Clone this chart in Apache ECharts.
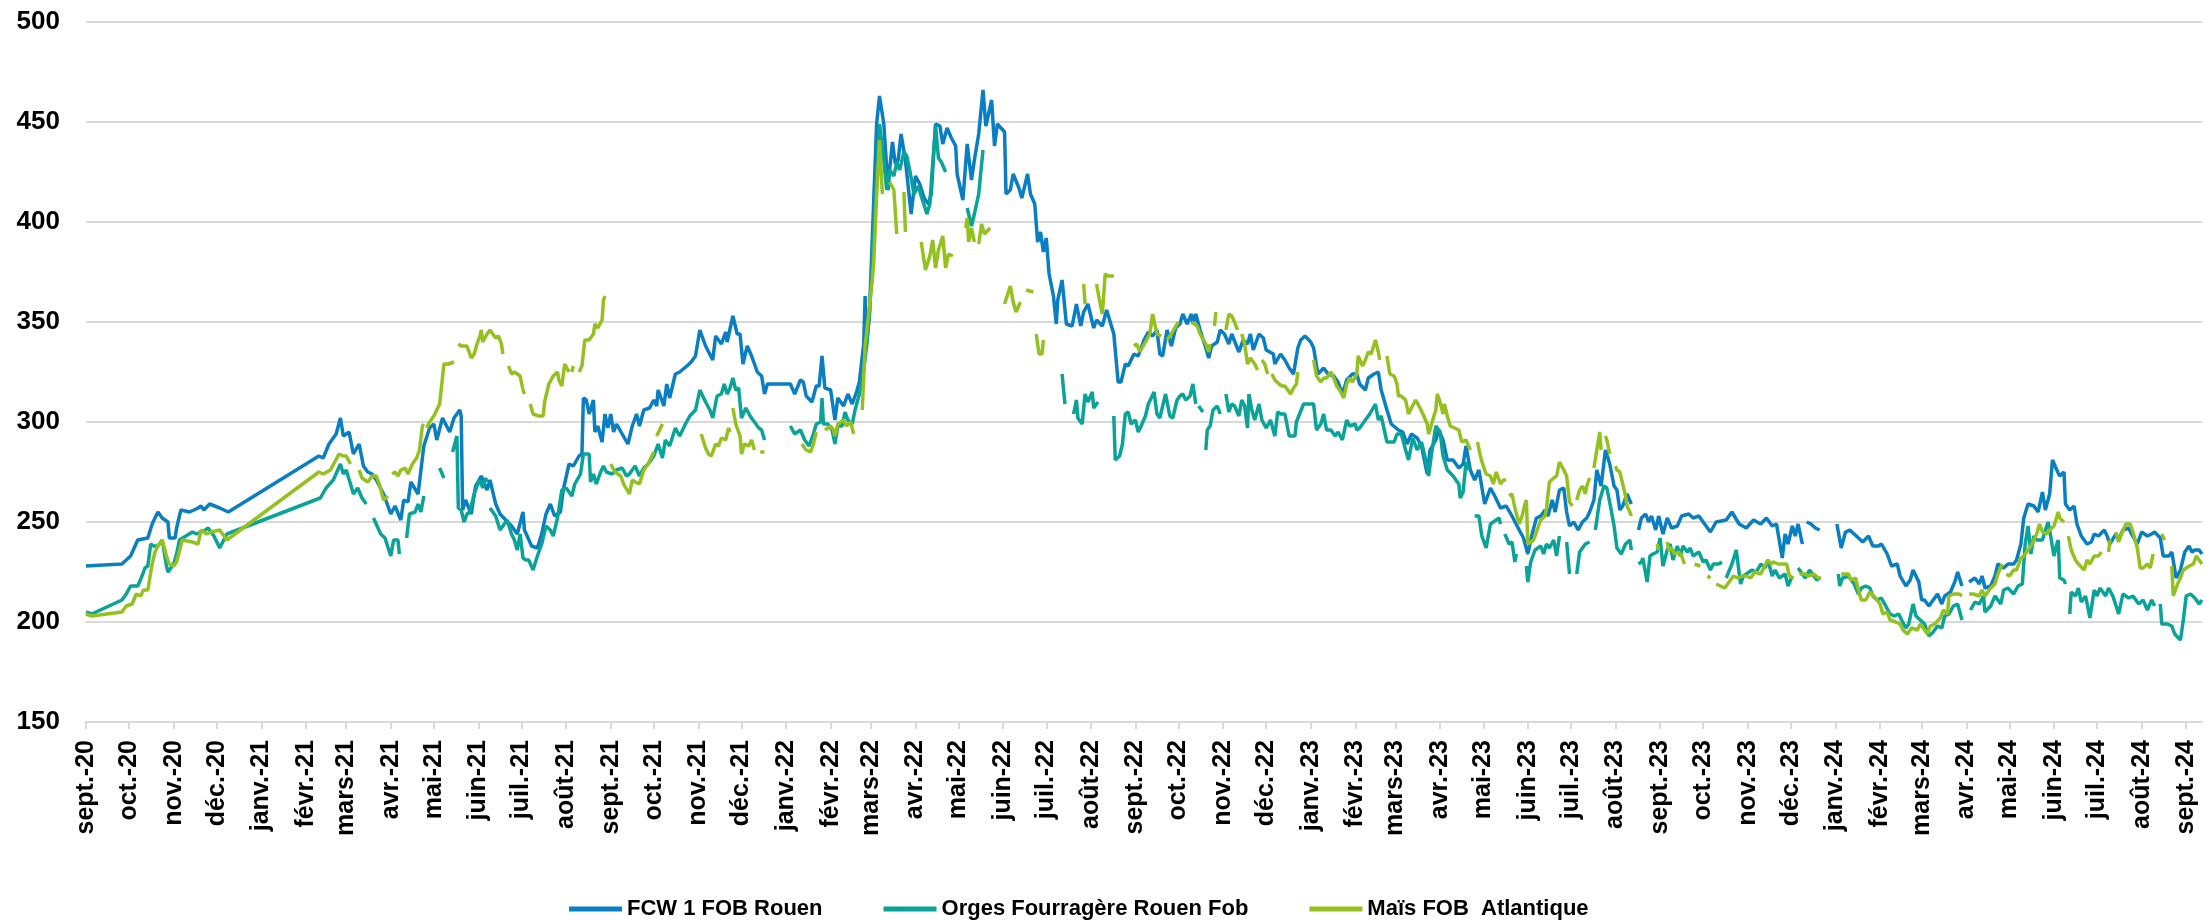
<!DOCTYPE html>
<html>
<head>
<meta charset="utf-8">
<script src="https://cdn.jsdelivr.net/npm/echarts@6/dist/echarts.min.js"></script>
<style>
  html, body { margin: 0; padding: 0; background: #ffffff; }
  #chart { width: 2206px; height: 923px; }
</style>
</head>
<body>
<div id="chart"></div>
<script>
// jours depuis le 1er sept. 2020 / prix en €/t ; null = pas de cotation
var startDate = '2020-09-01';
var dayCount = 1473;
var monthNames = ['janv.', 'févr.', 'mars', 'avr.', 'mai', 'juin', 'juil.', 'août', 'sept.', 'oct.', 'nov.', 'déc.'];
var seriesNames = ['FCW 1 FOB Rouen', 'Orges Fourragère Rouen Fob', 'Maïs FOB  Atlantique'];

var fcwDays = [
  0,25,31,36,43,46,50,53,57,58,62,63,66,72,78,80,82,86,93,99,
  162,165,169,174,177,179,183,186,190,193,196,199,202,207,212,215,219,221,224,226,
  231,235,239,242,244,248,253,256,260,261,262,264,268,271,275,279,281,285,288,292,
  296,300,304,305,310,314,317,320,323,326,330,332,336,339,343,345,346,348,350,353,
  354,356,359,361,363,365,367,369,373,377,380,383,385,388,392,395,397,398,402,404,
  406,410,413,418,421,424,427,431,436,438,442,445,446,450,453,455,457,460,463,467,
  470,472,474,490,493,497,499,501,505,508,510,512,514,518,521,523,527,530,533,536,
  538,541,542,543,545,548,550,552,555,558,559,561,563,565,567,570,574,577,580,583,
  586,588,591,594,596,599,602,605,606,610,613,616,618,621,624,626,630,632,634,639,
  640,643,645,649,651,653,655,657,660,662,664,666,668,670,673,675,676,679,682,686,
  689,692,694,697,701,703,707,710,715,718,720,723,725,729,732,736,739,742,745,747,
  749,752,755,758,761,763,766,769,770,772,775,779,781,783,787,789,792,795,797,802,
  805,808,810,812,816,819,821,826,827,831,834,837,840,843,845,848,852,854,857,861,
  864,868,871,874,877,881,884,886,890,892,896,899,901,905,908,913,916,919,922,926,
  929,933,935,939,941,944,947,951,955,958,960,963,966,969,973,977,980,984,988,992,
  997,1000,1003,1006,1009,1012,1015,1017,1020,1022,1025,1028,1030,1032,1035,1038,1041,1044,1046,1049,
  1051,1054,1057,1060,1063,1065,1067,1069,1072,1075,1077,1080,1082,1085,1087,1089,1092,1094,1097,1100,
  1103,1107,1110,1115,1118,1122,1125,1130,1134,1141,1145,1150,1155,1160,1165,1169,1173,1176,1180,1182,
  1184,1187,1189,1191,1194,1195,1197,1200,1203,1206,1212,1218,1221,1224,1227,1230,1233,1236,1240,1243,
  1247,1249,1253,1256,1260,1262,1266,1269,1271,1275,1277,1279,1282,1284,1288,1291,1293,1297,1300,1302,
  1305,1307,1310,1314,1317,1319,1321,1325,1328,1330,1334,1337,1341,1343,1346,1348,1351,1355,1358,1361,
  1363,1366,1368,1371,1373,1376,1377,1380,1383,1385,1388,1392,1395,1397,1400,1404,1406,1408,1412,1414,
  1417,1421,1423,1427,1430,1434,1437,1439,1443,1445,1449,1451,1454,1457,1460,1463,1465,1467,1470,1472
];
var fcwValues = [
  228,229,233,241,242,249,255,252,250,242,242,247,256,255,257,258,256,259,257,255,
  283,282,289,294,302,293,295,284,289,278,275,274,271,264,254,258,251,261,260,270,
  264,288,297,299,291,302,295,302,306,303,256,261,254,268,273,266,271,259,254,251,
  248,244,255,246,238,237,244,254,259,253,255,266,279,278,283,284,312,311,304,311,
  295,298,290,304,297,304,295,299,294,289,298,304,298,306,307,311,308,316,308,319,
  312,324,325,328,330,333,346,338,331,343,339,345,340,353,344,344,329,338,333,325,
  323,314,319,319,314,321,320,313,310,318,318,333,317,316,301,312,308,314,309,315,
  320,339,363,339,354,411,449,463,449,416,426,440,429,431,444,431,404,423,419,412,
  409,414,449,448,439,447,442,438,424,411,439,421,431,444,466,448,461,438,449,445,
  414,416,424,417,412,418,424,414,409,390,395,385,392,374,363,349,361,371,349,348,
  359,348,355,359,347,351,348,356,344,320,320,329,328,334,333,341,345,343,346,334,
  333,346,338,347,349,354,349,354,349,354,346,337,332,338,340,346,344,339,344,335,
  341,339,344,336,344,342,336,334,329,334,331,327,324,337,341,343,340,337,324,327,
  324,323,320,314,321,324,324,319,316,322,324,325,316,306,299,296,295,289,294,292,
  288,274,286,291,296,291,281,281,277,279,288,276,271,276,259,267,263,257,258,253,
  246,242,234,244,252,253,256,253,261,255,266,267,255,248,250,246,250,252,255,261,
  276,268,286,279,268,266,256,258,264,259,null,246,252,254,250,253,246,253,244,252,
  247,248,253,254,252,253,250,245,250,251,255,249,247,251,249,252,248,249,232,244,
  239,248,243,249,239,null,250,249,247,246,null,249,237,245,246,244,242,240,243,238,
  238,239,234,228,229,223,218,221,226,220,211,211,208,210,214,209,213,215,220,225,
  218,null,220,222,219,223,217,218,223,229,227,229,229,231,239,252,259,258,255,265,
  256,264,281,276,273,275,259,256,258,249,243,239,240,244,243,246,243,239,244,241,
  246,247,244,239,245,243,244,245,242,233,233,235,222,226,235,238,235,236,236,234
];

var orgeDays = [
  0,4,25,28,31,36,39,41,43,45,47,50,53,56,57,61,63,65,74,77,
  83,85,89,93,98,163,167,172,177,179,181,184,186,189,192,195,197,200,205,208,
  212,214,217,218,221,223,225,229,231,233,235,240,246,249,252,255,258,259,261,263,
  265,267,270,272,274,276,278,279,280,281,285,288,290,293,296,298,300,302,304,306,
  308,311,314,317,320,323,325,328,331,334,338,340,344,346,350,351,353,355,358,360,
  362,366,369,373,376,378,382,385,388,391,395,398,401,403,406,410,413,417,420,424,
  427,431,434,436,439,442,444,446,448,450,452,454,456,459,462,466,468,470,472,480,
  490,493,497,500,503,506,508,511,512,513,516,519,521,523,526,528,530,533,535,538,
  541,543,545,547,549,552,555,557,559,562,564,566,569,571,573,576,579,581,585,587,
  589,591,593,595,598,605,613,615,616,618,621,624,650,679,681,684,687,689,690,693,
  695,697,700,701,704,709,715,716,719,721,723,725,727,730,732,734,737,739,743,745,
  747,751,754,756,759,761,763,765,768,770,772,773,774,777,778,779,780,782,784,787,
  789,791,793,795,797,799,802,804,806,808,809,811,813,816,818,821,824,827,829,831,
  834,837,839,841,842,847,854,856,859,861,863,866,869,871,874,877,879,883,884,886,
  890,893,897,899,901,905,910,912,915,918,920,923,926,929,932,934,936,939,942,944,
  947,951,955,956,958,960,962,963,966,969,971,974,977,979,983,984,985,987,990,992,
  994,995,998,1002,1003,1005,1008,1009,1012,1014,1016,1018,1021,1023,1025,1027,1030,1032,1034,1037,
  1039,1043,1046,1048,1050,1053,1056,1058,1061,1063,1065,1068,1071,1074,1075,1077,1080,1082,1083,1086,
  1088,1090,1093,1095,1097,1100,1102,1104,1107,1109,1111,1114,1116,1118,1122,1125,1127,1130,1132,1136,
  1138,1140,1141,1145,1148,1151,1153,1155,1159,1162,1165,1168,1170,1173,1175,1178,1182,1184,1187,1189,
  1191,1194,1196,1199,1202,1204,1206,1212,1219,1220,1222,1226,1230,1233,1235,1238,1241,1243,1246,1249,
  1252,1255,1258,1261,1263,1266,1268,1271,1273,1276,1279,1282,1285,1288,1291,1293,1296,1299,1302,1305,
  1307,1311,1314,1317,1320,1321,1325,1328,1332,1334,1337,1341,1344,1347,1349,1351,1353,1355,1357,1361,
  1363,1365,1366,1369,1371,1372,1373,1376,1377,1378,1380,1381,1384,1386,1388,1391,1394,1397,1399,1401,
  1405,1407,1410,1414,1417,1421,1424,1428,1431,1434,1437,1439,1441,1443,1444,1448,1451,1453,1457,1459,
  1461,1464,1467,1470,1472
];
var orgeValues = [
  205,204,211,214,218,218,223,227,228,239,238,238,241,228,225,229,234,241,245,244,
  246,247,243,237,244,262,267,271,279,274,276,269,264,267,262,259,null,252,244,242,
  233,241,241,234,null,242,254,255,259,255,263,null,277,272,null,285,293,257,256,250,
  254,255,264,268,271,267,272,270,null,257,253,246,248,251,244,241,236,244,232,231,
  231,226,233,239,248,246,243,252,266,267,263,269,274,284,284,270,274,269,275,278,
  275,274,276,277,273,274,278,273,277,279,283,289,282,291,288,297,293,299,303,306,
  316,310,306,302,313,314,319,314,317,322,316,317,302,307,303,299,297,296,291,null,
  298,294,296,291,288,294,299,300,312,299,299,296,289,298,298,305,301,299,306,314,
  326,338,354,380,411,449,431,416,426,423,430,426,435,433,426,414,418,413,404,409,
  429,448,432,430,425,null,407,401,398,404,414,436,null,324,309,null,304,311,302,299,
  314,310,315,307,310,null,303,281,283,289,304,305,299,301,295,298,303,309,315,304,
  302,314,303,302,311,313,314,311,313,319,309,null,308,305,null,286,296,298,306,308,
  304,null,314,305,309,308,303,311,308,297,314,306,301,309,301,297,301,293,305,304,
  304,293,293,293,300,309,309,296,299,304,296,296,293,295,291,301,298,299,296,297,
  301,304,309,301,303,290,290,294,294,286,281,292,286,290,281,273,284,298,295,283,
  276,273,269,262,265,280,276,null,253,253,243,237,249,250,252,249,null,244,239,240,
  230,234,null,228,220,230,236,235,238,234,239,237,241,233,243,null,240,224,null,224,
  235,239,240,null,246,261,268,267,256,248,237,234,239,241,236,null,229,230,232,220,
  233,234,235,242,228,236,239,231,238,233,238,235,237,233,235,230,231,226,229,229,
  230,null,222,229,236,219,223,224,226,225,229,227,231,223,226,222,224,218,223,null,
  227,224,222,226,223,221,222,null,224,218,222,223,219,214,217,218,217,213,211,212,
  208,204,203,204,201,197,199,209,203,201,199,193,195,198,197,203,204,208,209,201,
  null,206,210,209,213,205,208,213,209,216,217,214,218,219,239,248,234,243,241,241,
  246,250,246,233,239,241,222,221,219,null,204,215,213,217,210,213,202,216,213,217,
  213,217,213,204,214,212,213,209,211,206,211,208,null,209,199,199,198,194,191,201,
  213,214,212,209,211
];

var maisDays = [
  0,4,25,28,32,35,38,40,43,46,48,50,53,56,58,61,63,67,74,78,
  80,84,87,93,98,162,165,170,173,176,179,181,184,187,190,192,196,199,202,204,
  207,210,211,213,215,217,219,222,224,227,230,232,234,235,236,237,239,242,246,249,
  252,256,257,259,261,265,268,270,272,274,275,276,279,281,283,285,287,289,290,292,
  294,296,298,302,304,305,307,309,311,315,318,319,322,325,328,329,331,333,336,337,
  338,339,341,343,345,347,350,353,354,356,359,360,361,362,365,368,372,374,378,380,
  382,385,388,391,395,396,397,401,403,428,431,433,435,438,440,442,445,447,448,449,
  450,452,455,456,458,461,463,465,467,469,472,480,498,501,504,506,508,510,514,518,
  520,521,523,527,529,532,534,536,540,542,547,548,550,552,554,556,559,562,564,566,
  569,570,575,581,584,587,589,591,593,596,598,600,603,607,612,613,614,616,618,619,
  621,623,625,629,634,639,643,645,647,650,652,654,659,660,661,663,665,666,668,694,
  695,697,703,705,707,709,711,715,720,729,731,733,737,740,742,745,748,750,752,755,
  759,760,765,769,773,775,779,781,782,783,785,786,790,793,795,797,799,801,802,804,
  806,808,810,813,815,816,818,820,822,823,825,827,830,832,834,838,840,842,843,848,
  854,856,859,861,863,866,868,870,872,875,877,879,881,884,885,888,890,892,894,897,
  899,900,902,905,907,910,912,913,915,918,920,922,925,928,930,933,934,936,939,940,
  942,944,945,947,949,952,955,957,960,963,965,968,970,972,974,977,979,981,984,986,
  988,989,990,992,994,997,999,1001,1002,1003,1007,1010,1012,1015,1016,1018,1021,1023,1025,1028,
  1030,1032,1034,1035,1037,1039,1041,1043,1044,1046,1047,1049,1051,1053,1054,1055,1057,1058,1060,1062,
  1064,1065,1067,1068,1071,1072,1074,1075,1080,1093,1094,1096,1100,1101,1103,1105,1108,1110,1112,1116,
  1119,1123,1125,1128,1130,1132,1134,1137,1140,1142,1146,1149,1152,1155,1158,1161,1165,1167,1170,1172,
  1174,1177,1181,1183,1185,1188,1189,1192,1196,1198,1202,1205,1207,1212,1221,1224,1226,1228,1231,1233,
  1235,1238,1241,1245,1248,1250,1253,1255,1259,1262,1264,1267,1270,1274,1276,1278,1281,1283,1286,1290,
  1292,1295,1296,1299,1303,1305,1307,1310,1313,1317,1319,1321,1325,1328,1330,1333,1334,1336,1338,1341,
  1343,1346,1348,1350,1353,1355,1357,1359,1361,1364,1366,1369,1372,1373,1376,1377,1379,1381,1384,1386,
  1390,1392,1394,1397,1400,1402,1404,1407,1408,1409,1412,1414,1416,1419,1422,1424,1427,1429,1431,1434,
  1436,1438,1440,1444,1446,1448,1451,1452,1455,1457,1459,1463,1466,1468,1470,1472
];
var maisValues = [
  204,203,205,208,209,214,213,216,216,229,235,238,241,233,229,228,230,241,240,239,
  246,244,245,246,241,275,274,276,280,284,283,283,279,null,276,272,270,273,273,269,
  261,263,null,274,275,273,276,277,274,279,282,286,298,299,null,297,300,303,309,329,
  329,330,null,339,338,338,332,334,339,343,346,340,344,346,344,342,343,339,334,null,
  328,324,325,323,316,314,null,309,304,303,303,310,319,323,325,321,318,329,325,null,
  325,328,null,325,328,341,341,344,349,347,351,361,363,null,279,275,273,269,264,271,
  270,269,276,279,285,null,293,299,null,294,287,284,283,289,288,292,291,297,295,null,
  307,299,293,284,289,288,291,286,null,285,285,null,289,286,285,289,295,null,296,298,
  296,293,299,301,298,300,294,null,306,338,371,380,413,441,414,null,420,416,394,null,
  415,395,null,390,376,383,391,377,386,393,377,384,383,null,397,402,390,397,390,null,
  389,399,394,397,null,359,368,360,355,360,null,366,365,null,344,334,334,341,null,369,
  359,null,369,361,354,374,373,373,null,338,339,335,340,344,354,344,343,null,341,344,
  349,350,null,350,348,344,339,335,339,null,348,355,null,346,354,353,350,346,null,344,
  339,329,332,329,326,null,331,329,324,null,324,321,319,318,318,314,317,319,325,null,
  331,323,320,322,322,325,322,318,316,312,319,322,320,324,333,328,331,335,334,341,
  335,331,null,333,324,323,319,313,313,311,304,307,311,307,304,299,294,299,306,314,
  310,304,309,303,298,297,296,290,291,286,null,290,283,278,274,273,269,275,269,271,
  271,null,263,264,257,249,253,259,261,239,241,247,251,253,257,270,272,273,280,276,
  273,260,258,null,261,266,268,264,268,272,null,277,286,295,286,null,293,291,284,null,
  278,276,275,274,263,258,255,253,null,239,236,null,240,236,237,234,235,233,229,null,
  229,228,null,223,222,null,219,218,217,219,223,222,223,223,222,225,224,227,231,229,
  230,229,229,229,223,222,null,224,224,223,224,222,222,null,224,224,224,221,222,216,
  211,211,215,212,209,204,205,201,200,199,196,194,197,196,199,197,194,198,199,202,
  206,204,213,214,214,213,null,214,214,213,216,213,217,219,224,229,null,224,223,226,
  226,232,233,235,238,241,244,249,245,244,246,248,255,252,250,null,243,236,231,229,
  226,231,229,233,233,235,null,235,241,null,245,240,244,249,249,245,237,227,227,229,
  227,234,null,244,241,null,228,213,219,222,226,228,229,233,231,229
];

// une catégorie par jour, étiquette au 1er de chaque mois
var days = [];
var t0 = Date.parse(startDate + 'T00:00:00Z');
for (var i = 0; i < dayCount; i++) {
  days.push(new Date(t0 + i * 86400000).toISOString().slice(0, 10));
}
function isMonthStart(index, value) {
  return value.slice(8, 10) === '01';
}
function monthLabel(value) {
  var m = parseInt(value.slice(5, 7), 10) - 1;
  return monthNames[m] + '-' + value.slice(2, 4);
}
function toPairs(dayList, valueList) {
  return dayList.map(function (d, k) {
    return [d, valueList[k] === null ? '-' : valueList[k]];
  });
}

var myChart = echarts.init(document.getElementById('chart'));
var option = {
  backgroundColor: '#ffffff',
  animation: false,
  color: ['#0a7ec2', '#0aa398', '#95c11f'],
  grid: { left: 86, right: 4, top: 22, bottom: 201, containLabel: false },
  legend: {
    data: seriesNames,
    left: 564,
    top: 893,
    icon: 'rect',
    itemWidth: 53,
    itemHeight: 5,
    itemGap: 61,
    textStyle: { fontFamily: 'Liberation Sans', fontWeight: 'bold', fontSize: 22, color: '#000000' }
  },
  xAxis: {
    type: 'category',
    data: days,
    boundaryGap: false,
    axisLine: { lineStyle: { color: '#d9d9d9', width: 2 } },
    axisTick: { interval: isMonthStart, length: 7, lineStyle: { color: '#d9d9d9', width: 2 } },
    axisLabel: {
      interval: isMonthStart,
      formatter: monthLabel,
      rotate: 90,
      margin: 18,
      fontFamily: 'Liberation Sans',
      fontWeight: 'bold',
      fontSize: 25,
      color: '#000000'
    },
    splitLine: { show: false }
  },
  yAxis: {
    type: 'value',
    min: 150,
    max: 500,
    interval: 50,
    axisLine: { show: false },
    axisTick: { show: false },
    axisLabel: {
      margin: 26,
      fontFamily: 'Liberation Sans',
      fontWeight: 'bold',
      fontSize: 26,
      color: '#000000'
    },
    splitLine: { lineStyle: { color: '#d9d9d9', width: 2 } }
  },
  series: [
    { name: seriesNames[0], type: 'line', data: toPairs(fcwDays, fcwValues), showSymbol: false, connectNulls: false, lineStyle: { width: 3.5 } },
    { name: seriesNames[1], type: 'line', data: toPairs(orgeDays, orgeValues), showSymbol: false, connectNulls: false, lineStyle: { width: 3.5 } },
    { name: seriesNames[2], type: 'line', data: toPairs(maisDays, maisValues), showSymbol: false, connectNulls: false, lineStyle: { width: 3.5 } }
  ]
};
myChart.setOption(option);
</script>
</body>
</html>
